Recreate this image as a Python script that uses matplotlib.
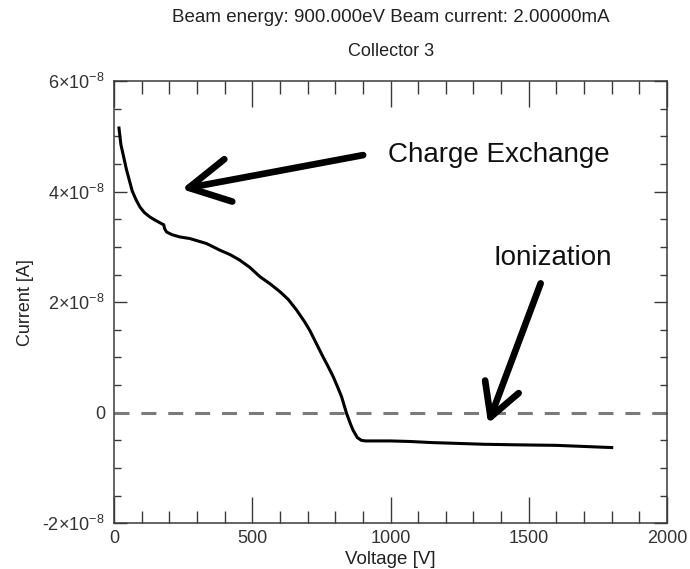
import matplotlib
matplotlib.use("Agg")
import matplotlib.pyplot as plt
from matplotlib.ticker import MultipleLocator, FuncFormatter

plt.rcParams['font.family'] = ['Liberation Sans', 'DejaVu Sans']
plt.rcParams['mathtext.fontset'] = 'custom'
plt.rcParams['mathtext.rm'] = 'Liberation Sans'
plt.rcParams['mathtext.it'] = 'Liberation Sans'

# Data (voltage in V, current in units of 1e-8 A)
voltage = [18, 25, 34, 45, 52, 66, 80, 94, 110, 130, 150, 172, 180, 183, 190, 210,
           238, 275, 335, 383, 420, 455, 491, 528, 565, 600, 630, 660, 690, 708,
           730, 756, 775, 793, 810, 823, 841, 855, 865, 880, 895, 910, 950, 1000,
           1070, 1150, 1214, 1335, 1450, 1600, 1700, 1800]
current_e8 = [5.15, 4.85, 4.65, 4.40, 4.27, 4.01, 3.85, 3.72, 3.62, 3.54, 3.48, 3.42,
              3.40, 3.33, 3.27, 3.22, 3.18, 3.15, 3.06, 2.94, 2.86, 2.76, 2.63, 2.46,
              2.33, 2.19, 2.05, 1.86, 1.64, 1.49, 1.27, 1.01, 0.83, 0.65, 0.45, 0.29,
              -0.01, -0.20, -0.32, -0.45, -0.50, -0.51, -0.51, -0.51, -0.52, -0.54,
              -0.55, -0.57, -0.58, -0.59, -0.61, -0.63]
current = [c * 1e-8 for c in current_e8]

x_limits = [0, 2000]
y_limits = [-2e-8, 6e-8]

title_line1 = "Beam energy: 900.000eV Beam current: 2.00000mA"
title_line2 = "Collector 3"
x_label = "Voltage [V]"
y_label = "Current [A]"

# annotations: (text, text position, arrow tail, arrow tip)
ann_charge = ("Charge Exchange", (990, 4.66e-8), (901, 4.66e-8), (245, 4.045e-8))
ann_ion = ("Ionization", (1373, 2.80e-8), (1543, 2.34e-8), (1353, -0.196e-8))

fig = plt.figure(figsize=(6.9, 5.69), dpi=100)
ax = fig.add_axes([0.1652, 0.0803, 0.8015, 0.7773])

ax.plot(x_limits, [0, 0], color='#7a7a7a', lw=2.2, dashes=(4.9, 3.9))
ax.plot(voltage, current, color='black', lw=2.2)

ax.set_xlim(x_limits)
ax.set_ylim(y_limits)

ax.xaxis.set_major_locator(MultipleLocator(500))
ax.xaxis.set_minor_locator(MultipleLocator(100))
ax.yaxis.set_major_locator(MultipleLocator(2e-8))
ax.yaxis.set_minor_locator(MultipleLocator(0.5e-8))

def yfmt(v, pos):
    m = round(v / 1e-8)
    if m == 0:
        return "0"
    return f"{m}×10$^{{-8}}$"

ax.yaxis.set_major_formatter(FuncFormatter(yfmt))

axis_color = '#3a3a3a'
for s in ax.spines.values():
    s.set_color(axis_color)
    s.set_linewidth(1.1)

ax.tick_params(axis='x', which='major', direction='in', length=19, width=1.0,
               top=True, bottom=True, color=axis_color, labelsize=13,
               labelcolor='#333333', pad=5)
ax.tick_params(axis='x', which='minor', direction='in', length=9, width=1.0,
               top=True, bottom=True, color=axis_color)
ax.tick_params(axis='y', which='major', direction='in', length=9.4, width=1.0,
               left=True, right=True, color=axis_color, labelsize=13,
               labelcolor='#333333', pad=6.5)
ax.tick_params(axis='y', which='minor', direction='in', length=5, width=1.0,
               left=True, right=True, color=axis_color)

ax.set_xlabel(x_label, fontsize=13.5, color='#222222', labelpad=3)
ax.set_ylabel(y_label, fontsize=13, color='#222222', labelpad=6)

fig.text(391 / 690, 1 - 18 / 569, title_line1, ha='center', va='center', fontsize=13.5, color='#222222')
fig.text(391 / 690, 1 - 52 / 569, title_line2, ha='center', va='center', fontsize=13, color='#222222')

for text, tpos, tail, tip in (ann_charge, ann_ion):
    ax.text(tpos[0], tpos[1], text, fontsize=20, ha='left', va='center', color='#111111')

ax.annotate("", xy=ann_charge[3], xytext=ann_charge[2],
            arrowprops=dict(arrowstyle="->,head_length=2.9,head_width=1.55",
                            lw=4.8, color='black', mutation_scale=10,
                            shrinkA=0, shrinkB=0))
ax.annotate("", xy=ann_ion[3], xytext=ann_ion[2],
            arrowprops=dict(arrowstyle="->,head_length=2.33,head_width=1.29",
                            lw=4.8, color='black', mutation_scale=10,
                            shrinkA=0, shrinkB=0))

fig.savefig("out.png", dpi=100)
